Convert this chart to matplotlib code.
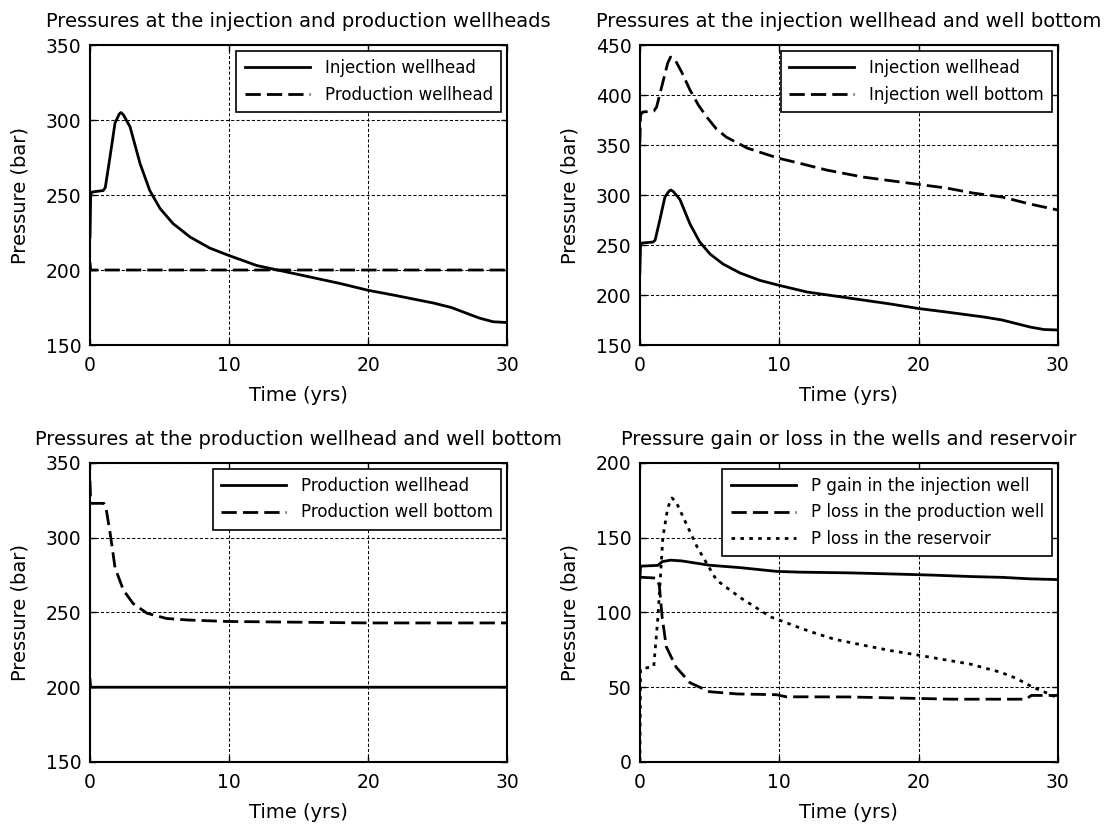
import matplotlib
matplotlib.use("Agg")
import matplotlib.pyplot as plt

# injection wellhead pressure (bar)
t_inj_wh = [0, 0.05, 0.15, 0.95, 1.1, 1.44, 1.8, 2.1, 2.23, 2.4, 2.88, 3.6, 4.3, 5.04,
            5.97, 7.2, 8.6, 9.9, 12.0, 13.5, 16, 18, 20, 22, 24.7, 26, 27, 28, 29, 30]
p_inj_wh = [222, 250, 252, 253, 255, 275.5, 298, 304, 305, 303.5, 295.5, 271, 253, 241,
            231, 222, 214.7, 210, 203, 200, 195, 191, 186.5, 183, 178, 175, 171.5, 168, 165.5, 165]

# production wellhead
t_prod_wh = [0, 0.05, 30]
p_prod_wh = [205, 200, 200]

# injection well bottom
t_inj_wb = [0, 0.05, 0.2, 1.0, 1.2, 1.6, 2.0, 2.2, 2.5, 3.0, 3.6, 4.2, 4.8, 5.5,
            6.2, 7.7, 9.9, 11.4, 13.4, 16, 19.8, 22, 23.9, 26, 28, 30]
p_inj_wb = [352, 380, 383, 384, 388, 410, 432, 438, 436, 423, 405, 390, 378, 366,
            358, 347, 337, 332, 325, 318, 311, 307, 302, 298, 291, 285]

# production well bottom
t_prod_wb = [0, 0.05, 1.0, 1.15, 1.45, 1.8, 2.4, 3.1, 4.1, 5.5, 7, 9.8, 15, 20, 25, 30]
p_prod_wb = [338, 323, 323, 320, 303, 280, 265, 256, 249.5, 246, 245, 244, 243.5, 243, 243, 243]

# pressure gain / loss
t_gain_inj = [0, 0.05, 1.3, 1.6, 2.2, 3.0, 5.0, 7.2, 9.8, 11.4, 15, 18.4, 21, 23.9, 26, 28, 30]
p_gain_inj = [122, 131, 131.5, 134, 135, 134.5, 131.6, 130, 127.5, 127, 126.5, 125.7, 125,
              124, 123.5, 122.5, 122]

t_loss_prod = [0, 1.2, 1.4, 1.6, 1.9, 2.6, 3.6, 5.0, 7, 9.8, 10.5, 15, 22.4, 27.7, 28.1, 30]
p_loss_prod = [123.6, 123, 118, 97, 77, 63.5, 53, 47, 45.5, 45, 43.6, 43.5, 42, 42, 44.5, 44.5]

t_loss_res = [0, 0.05, 0.5, 1.0, 1.3, 1.65, 2.0, 2.3, 2.6, 3.1, 4.1, 5.5, 7.2, 9.4, 11.4,
              12.3, 14, 16.1, 18, 19.9, 21.5, 23.7, 25.9, 27, 28.2, 29, 29.7, 30]
p_loss_res = [0, 62, 63, 64, 97, 150, 170, 176.6, 174, 164, 144, 121.7, 110, 97, 90,
              87, 82, 78, 74.5, 71.6, 69, 65.5, 60, 56, 50, 47, 44, 46]

titles = ["Pressures at the injection and production wellheads",
          "Pressures at the injection wellhead and well bottom",
          "Pressures at the production wellhead and well bottom",
          "Pressure gain or loss in the wells and reservoir"]

plt.rcParams['font.family'] = ['DejaVu Sans']
fig = plt.figure(figsize=(11.07, 8.25), dpi=100)

pos = [[0.0813, 0.5818, 0.3767, 0.3636],
       [0.578, 0.5818, 0.3776, 0.3636],
       [0.0813, 0.0764, 0.3767, 0.3624],
       [0.578, 0.0764, 0.3776, 0.3624]]

LW = 2.0
DASH = (5.5, 2.2)
DOT = (1.3, 1.9)

axes = [fig.add_axes(p) for p in pos]

ax = axes[0]
ax.plot(t_inj_wh, p_inj_wh, color='k', lw=LW, label='Injection wellhead')
ax.plot(t_prod_wh, p_prod_wh, color='k', lw=LW, dashes=DASH, label='Production wellhead')
ax.set_ylim(150, 350)
ax.set_yticks([150, 200, 250, 300, 350])

ax = axes[1]
ax.plot(t_inj_wh, p_inj_wh, color='k', lw=LW, label='Injection wellhead')
ax.plot(t_inj_wb, p_inj_wb, color='k', lw=LW, dashes=DASH, label='Injection well bottom')
ax.set_ylim(150, 450)
ax.set_yticks([150, 200, 250, 300, 350, 400, 450])

ax = axes[2]
ax.plot(t_prod_wh, p_prod_wh, color='k', lw=LW, label='Production wellhead')
ax.plot(t_prod_wb, p_prod_wb, color='k', lw=LW, dashes=DASH, label='Production well bottom')
ax.set_ylim(150, 350)
ax.set_yticks([150, 200, 250, 300, 350])

ax = axes[3]
ax.plot(t_gain_inj, p_gain_inj, color='k', lw=LW, label='P gain in the injection well')
ax.plot(t_loss_prod, p_loss_prod, color='k', lw=LW, dashes=DASH, label='P loss in the production well')
ax.plot(t_loss_res, p_loss_res, color='k', lw=LW, dashes=DOT, label='P loss in the reservoir')
ax.set_ylim(0, 200)
ax.set_yticks([0, 50, 100, 150, 200])

for ax, title in zip(axes, titles):
    ax.set_xlim(0, 30)
    ax.set_xticks([0, 10, 20, 30])
    ax.set_title(title, fontsize=14, pad=13)
    ax.set_xlabel('Time (yrs)', fontsize=14, labelpad=8)
    ax.set_ylabel('Pressure (bar)', fontsize=14, labelpad=12)
    ax.tick_params(direction='in', top=True, right=True, labelsize=13.5, length=4, width=1)
    ax.tick_params(axis='x', pad=8)
    ax.tick_params(axis='y', pad=6)
    ax.grid(True, color='k', lw=0.75, linestyle=(0, (3, 2)))
    for s in ax.spines.values():
        s.set_linewidth(1.5)
    leg = ax.legend(loc='upper right', fontsize=12, fancybox=False, framealpha=1,
                    edgecolor='k', handlelength=3.9, handletextpad=0.9,
                    labelspacing=0.5, borderaxespad=0.35, borderpad=0.5)
    leg.get_frame().set_linewidth(1.2)

fig.savefig('out.png', dpi=100)
